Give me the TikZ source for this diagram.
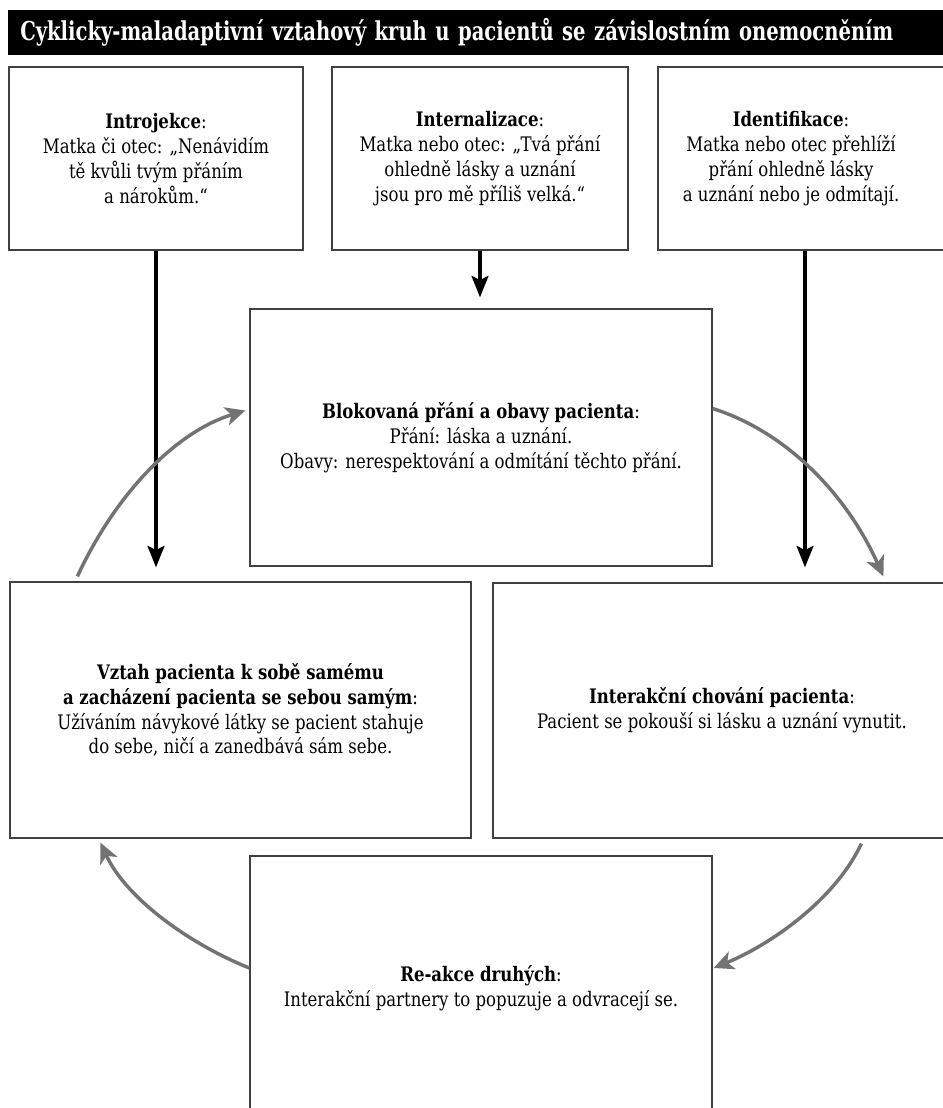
\documentclass[tikz,border=0pt]{standalone}
\usepackage{fontspec}
\setmainfont{DejaVu Serif Condensed}[FakeStretch=0.92]
\newfontfamily\titlefont{DejaVu Serif Condensed}[FakeStretch=0.85]
\usetikzlibrary{arrows.meta,calc}
\begin{document}
\begin{tikzpicture}[x=0.75pt,y=-0.75pt,
  boxfont/.style={font=\fontsize{15}{18.6}\selectfont},
  box/.style={draw=black!75, line width=0.9pt, rectangle, align=center,
    boxfont, inner sep=0pt},
  blackarrow/.style={line width=3pt, black, -{Stealth[length=16pt,width=12.5pt,inset=3pt]}},
  grayarrow/.style={line width=2.6pt, draw=black!55, -{Stealth[length=15pt,width=14pt,inset=4pt]}},
  titlebar/.style={fill=black, text=white, anchor=west, minimum height=33.75pt,
    text width=696pt, align=left, inner xsep=9pt, inner ysep=0pt,
    font=\titlefont\fontsize{19.5}{22}\selectfont\bfseries}]
\useasboundingbox (0,0) rectangle (943,1108);
\fill[white] (0,0) rectangle (943,1108);
\clip (0,0) rectangle (943,1108);

\node[titlebar] (title) at (8,32.5) {\resizebox{654.75pt}{\height}{Cyklicky-maladaptivní vztahový kruh u pacientů se závislostním onemocněním}};

\node[box, minimum width=220.5pt, minimum height=137.25pt] (intro) at (156,158.5)
  {\textbf{Introjekce}:\\Matka či otec: „Nenávidím\\tě kvůli tvým přáním\\a nárokům.“};
\node[box, minimum width=222pt, minimum height=137.25pt] (intern) at (480,158.5)
  {\textbf{Internalizace}:\\Matka nebo otec: „Tvá přání\\ohledně lásky a uznání\\jsou pro mě příliš velká.“};
\node[box, minimum width=226.5pt, minimum height=137.25pt,
  label={[align=center, boxfont, xshift=-13.5pt]center:\textbf{Identifikace}:\\Matka nebo otec přehlíží\\přání ohledně lásky\\a uznání nebo je odmítají.}] (ident) at (809,158.5) {};

\node[box, minimum width=346.5pt, minimum height=192.75pt] (block) at (481,437.5)
  {\textbf{Blokovaná přání a obavy pacienta}:\\Přání: láska a uznání.\\Obavy: nerespektování a odmítání těchto přání.};
\node[box, minimum width=345.75pt, minimum height=192pt] (vztah) at (240.5,710)
  {\textbf{Vztah pacienta k sobě samému}\\\textbf{a zacházení pacienta se sebou samým}:\\Užíváním návykové látky se pacient stahuje\\do sebe, ničí a zanedbává sám sebe.};
\node[box, minimum width=343.5pt, minimum height=191.25pt] (inter) at (722,710.5)
  {\textbf{Interakční chování pacienta}:\\Pacient se pokouší si lásku a uznání vynutit.};
\node[box, minimum width=346.5pt, minimum height=198pt] (reakce) at (481,988)
  {\textbf{Re-akce druhých}:\\Interakční partnery to popuzuje a odvracejí se.};

% black arrows
\draw[blackarrow] (intro.south) -- ($(intro.south |- vztah.north)+(0,-14)$);
\draw[blackarrow] (intern.south) -- ($(intern.south |- block.north)+(0,-11)$);
\draw[blackarrow] ($(ident.south)+(-4,0)$) -- ($(ident.south |- inter.north)+(-4,-15)$);

% gray cycle arrows
\draw[grayarrow] ($(vztah.north west)+(68,-5)$) .. controls (115,495) and (175,432) .. ($(block.west)+(-4,-27)$);
\draw[grayarrow] ($(block.east)+(0,-29)$) .. controls (787,432) and (847,495) .. ($(inter.north west)+(391,-6)$);
\draw[grayarrow] ($(inter.south west)+(369,5)$) .. controls (835,900) and (770,945) .. ($(reakce.east)+(1,-20)$);
\draw[grayarrow] ($(reakce.west)+(0,-20)$) .. controls (192,945) and (127,900) .. ($(vztah.south west)+(91,4)$);
\end{tikzpicture}
\end{document}
